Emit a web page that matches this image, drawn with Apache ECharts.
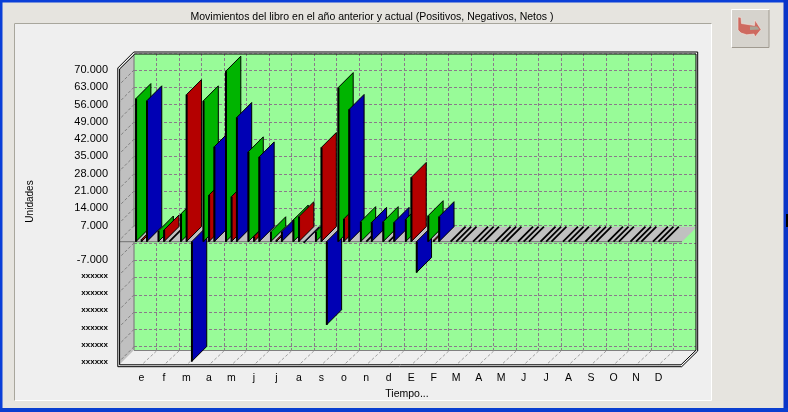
<!DOCTYPE html>
<html><head><meta charset="utf-8">
<style>html,body{margin:0;padding:0;background:#E6E4DF}#c{width:788px;height:412px}</style>
<script src="https://cdn.jsdelivr.net/npm/echarts@6/dist/echarts.min.js"></script>
</head><body><div id="c"></div>
<script>
const titleText = 'Movimientos del libro en el año anterior y actual (Positivos, Negativos, Netos )';
const categories = ['e','f','m','a','m','j','j','a','s','o','n','d','E','F','M','A','M','J','J','A','S','O','N','D'];
const positivos = [57900,4300,11200,57000,69000,36350,4000,8760,4000,62350,8100,8100,9050,10500,0,0,0,0,0,0,0,0,0,0];
const negativos = [900,4700,59500,18860,18200,2000,700,10100,38100,9200,0,0,26000,700,0,0,0,0,0,0,0,0,0,0];
const netos = [57000,0,-48500,38400,50250,34300,4000,-400,-33650,53500,7800,7800,-12500,10100,0,0,0,0,0,0,0,0,0,0];
const tickValues = [70000,63000,56000,49000,42000,35000,28000,21000,14000,7000,-7000,-14000,-21000,-28000,-35000,-42000,-49000];
const tickLabels = ['70.000','63.000','56.000','49.000','42.000','35.000','28.000','21.000','14.000','7.000','-7.000','xxxxxx','xxxxxx','xxxxxx','xxxxxx','xxxxxx','xxxxxx'];

const FONT = '"Liberation Sans", Arial, sans-serif';
const DEPTH = 15, FRONT_DY = -1.3;
const axisCats = [''].concat(categories, ['']);
const chart = echarts.init(document.getElementById('c'), null, {renderer:'canvas'});

function barSeries(name, values, color, offset, order){
  return {
    type:'custom', name, z:3, silent:true, animation:false, coordinateSystem:'cartesian2d',
    data: values.map((v,i)=>[i+1,v]),
    encode:{x:0,y:1},
    renderItem(params, api){
      const cat = api.value(0), v = api.value(1);
      const b = api.coord([cat,0]), t = api.coord([cat,v]);
      const x = b[0]-DEPTH+offset, y0 = b[1]+FRONT_DY, yv = t[1]+FRONT_DY;
      const z2 = cat*3+order;
      if(v===0){
        return {type:'line', z2, shape:{x1:x,y1:y0,x2:x+DEPTH,y2:y0-DEPTH}, style:{stroke:'#000',lineWidth:1.8}};
      }
      return {type:'group', children:[
        {type:'polygon', z2, shape:{points:[[x,y0],[x,yv],[x+DEPTH,yv-DEPTH],[x+DEPTH,y0-DEPTH]]},
         style:{fill:color,stroke:'#000',lineWidth:1}},
        {type:'line', z2, shape:{x1:x+.2,y1:y0,x2:x+.2,y2:yv}, style:{stroke:'#000',lineWidth:2}}
      ]};
    }
  };
}

const decoration = {
  type:'custom', name:'marco', z:2, silent:true, animation:false, coordinateSystem:'cartesian2d',
  data:[[1,0]], encode:{x:0,y:1},
  renderItem(params, api){
    const kids = [];
    const poly = (points,style)=>kids.push({type:'polygon',shape:{points},style});
    const pline = (points,style)=>kids.push({type:'polyline',shape:{points},style:Object.assign({fill:null},style)});
    const line = (x1,y1,x2,y2,style)=>kids.push({type:'line',shape:{x1,y1,x2,y2},style});
    kids.push({type:'rect',shape:{x:134,y:351,width:565,height:16},style:{fill:'#EFEFEF'}});
    poly([[119,365],[134,350],[696,350],[681,365]],{fill:'#EFEFEF'});
    poly([[119,69],[134,54],[134,350],[119,365]],{fill:'#C0C0C0'});
    line(134,54,134,350,{stroke:'#808080',lineWidth:1.2});
    line(134,350.5,696,350.5,{stroke:'#808080',lineWidth:1.2});
    const dash={stroke:'#808080',lineWidth:1,lineDash:[3,2]};
    tickValues.concat([0]).forEach(v=>{
      const y=api.coord([1,v])[1];
      if(y<349) line(134,y,119.5,y+DEPTH-.5,dash);
    });
    categories.forEach((c,i)=>{
      const x=api.coord([i+1,0])[0];
      line(x,351,x-DEPTH,365,{stroke:'#A0A0A0',lineWidth:1,lineDash:[3,2]});
    });
    const y0=api.coord([1,0])[1]+FRONT_DY;
    poly([[119,y0],[134,y0-DEPTH],[697,y0-DEPTH],[682,y0]],{fill:'#C0C0C0'});
    line(119,y0,682,y0,{stroke:'#808080',lineWidth:1.4});
    const outer=[[117.8,68],[133.8,52],[697.7,52],[697.7,351],[681.7,366.7],[117.8,366.7],[117.8,68]];
    const mid=[[118.8,68.5],[134.3,53],[696.8,53],[696.8,350.6],[681.3,365.7],[118.8,365.7],[118.8,68.5]];
    const inner=[[119.6,69],[134.8,54],[696,54],[696,350.2],[681,364.8],[119.6,364.8],[119.6,69]];
    pline(mid,{stroke:'#fff',lineWidth:1});
    pline(outer,{stroke:'#000',lineWidth:1});
    pline(inner,{stroke:'#000',lineWidth:1});
    return {type:'group',children:kids};
  }
};

chart.setOption({
  backgroundColor:'#E6E4DF',
  animation:false,
  textStyle:{fontFamily:FONT},
  title:{text:titleText,left:367,top:7,textAlign:'center',
    textStyle:{fontFamily:FONT,fontSize:10.5,fontWeight:'normal',color:'#000'}},
  grid:{left:134,width:562,top:53,height:311,containLabel:false},
  xAxis:{type:'category',data:axisCats,boundaryGap:false,
    axisLine:{show:false},axisTick:{show:false},
    axisLabel:{interval:0,margin:9,padding:[0,30,0,0],fontSize:10.5,color:'#000',fontFamily:FONT},
    splitLine:{show:true,interval:(i)=>i>0&&i<25,lineStyle:{color:'#8A7A8A',width:1,type:[3,2]}},
    name:'Tiempo...',nameLocation:'middle',nameGap:22,
    nameTextStyle:{fontSize:10.5,color:'#000',fontFamily:FONT,padding:[0,16,0,0]}},
  yAxis:{type:'value',min:-49000,max:76879,interval:7000,
    axisLine:{show:false},axisTick:{show:false},
    axisLabel:{margin:26,fontSize:11,color:'#000',fontFamily:FONT,
      formatter:(v)=>{const i=tickValues.indexOf(v);if(i<0)return '';
        return tickLabels[i]==='xxxxxx'?'{s|'+tickLabels[i]+'}':tickLabels[i];},
      rich:{s:{fontSize:8,fontWeight:'bold',color:'#000',fontFamily:FONT,padding:[0,0,4,0]}}},
    splitLine:{show:true,lineStyle:{color:'#8A7A8A',width:1,type:[3,2]}},
    name:'Unidades',nameLocation:'middle',nameGap:99,nameRotate:90,
    nameTextStyle:{fontSize:10,color:'#000',fontFamily:FONT,padding:[0,0,0,14]}},
  graphic:{elements:[
    {type:'rect',z:-5,silent:true,shape:{x:1,y:1,width:785,height:409},style:{fill:'#E6E4DF',stroke:'#0A3FD8',lineWidth:3}},
    {type:'rect',z:-5,silent:true,shape:{x:783.5,y:0,width:4.5,height:412},style:{fill:'#0A35C8'}},
    {type:'rect',z:-5,silent:true,shape:{x:786,y:214,width:2,height:13},style:{fill:'#000'}},
    {type:'rect',z:-5,silent:true,shape:{x:0,y:408,width:788,height:4},style:{fill:'#0A3FD0'}},
    {type:'rect',z:-4,silent:true,shape:{x:14.5,y:23.5,width:697,height:377},style:{fill:'#EFEFEF',stroke:'#FFFFFF',lineWidth:1}},
    {type:'polyline',z:-4,silent:true,shape:{points:[[14.5,400.5],[14.5,23.5],[711.5,23.5]]},style:{fill:null,stroke:'#A8A69C',lineWidth:1}},
    {type:'rect',z:-3,silent:true,shape:{x:134,y:54,width:562,height:296},style:{fill:'#98FB98'}},
    {type:'rect',z:-4,silent:true,shape:{x:732,y:10,width:37,height:37},style:{fill:'#D6D3CD'}},
    {type:'polyline',z:-4,silent:true,shape:{points:[[731.5,47],[731.5,9.5],[769,9.5]]},style:{fill:null,stroke:'#FFFFFF',lineWidth:1}},
    {type:'polyline',z:-4,silent:true,shape:{points:[[769,10],[769,47.5],[732,47.5]]},style:{fill:null,stroke:'#A09A90',lineWidth:1}},
    {type:'polygon',z:-3,silent:true,shape:{points:[[738,17],[741,17.5],[741.5,23.5],[754.5,25.5],[755,20],[761,29.5],[755,37],[754,34],[746.7,34.8],[741,33],[738,30]]},style:{fill:'#CE6A60',stroke:'#F4E4DE',lineWidth:.6}},
    {type:'polygon',z:-3,silent:true,shape:{points:[[750,26.5],[757,26.5],[759.5,29.5],[750,30]]},style:{fill:'#A9A596'}}
  ]},
  series:[
    decoration,
    barSeries('Positivos',positivos,'#00B400',-5.6,0),
    barSeries('Negativos',negativos,'#B40000',0,1),
    barSeries('Netos',netos,'#0000B4',5.3,2)
  ]
});
</script></body></html>
